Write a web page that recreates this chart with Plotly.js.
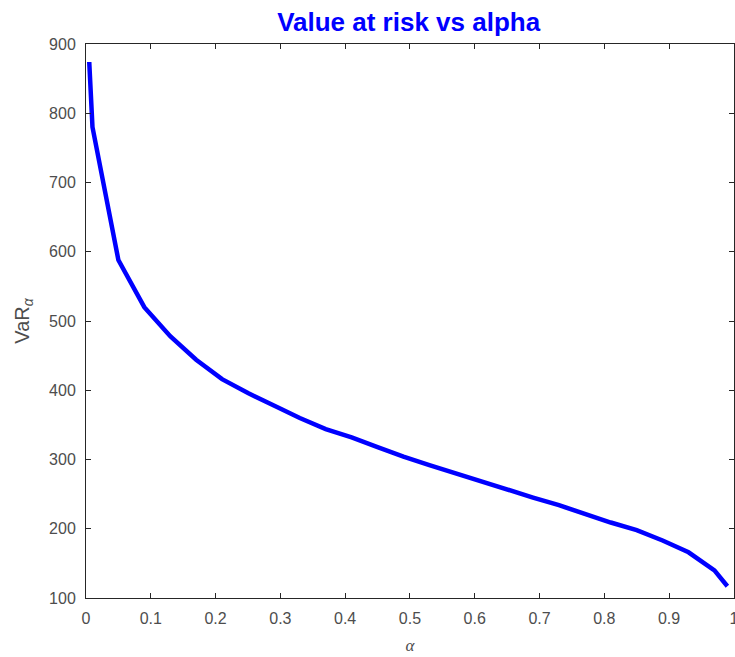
<!DOCTYPE html>
<html>
<head>
<meta charset="utf-8">
<script src="https://cdn.plot.ly/plotly-3.0.1.min.js"></script>
<style>html,body{margin:0;padding:0;background:#fff;}#chart{width:735px;height:657px;}</style>
</head>
<body>
<div id="chart"></div>
<script>
const alphaValues = [0.005, 0.01, 0.05, 0.09, 0.13, 0.17, 0.21, 0.25, 0.29, 0.33, 0.37, 0.41, 0.45, 0.49, 0.53, 0.57, 0.61, 0.65, 0.69, 0.73, 0.77, 0.81, 0.85, 0.89, 0.93, 0.97, 0.99];
const varValues = [874, 780, 588, 520, 478, 444, 416, 396, 378, 360, 344, 332, 318, 304, 292, 280, 268, 256, 245, 234, 221, 209, 198, 183, 166, 140, 117];
const xTicks = [0, 0.1, 0.2, 0.3, 0.4, 0.5, 0.6, 0.7, 0.8, 0.9, 1];
const xTickLabels = ['0', '0.1', '0.2', '0.3', '0.4', '0.5', '0.6', '0.7', '0.8', '0.9', '1'];
const yTicks = [100, 200, 300, 400, 500, 600, 700, 800, 900];

const axisCommon = {
  showgrid: false, zeroline: false, showline: true, mirror: 'ticks',
  linecolor: '#262626', linewidth: 1, ticks: 'inside', ticklen: 5, tickcolor: '#262626',
  ticklabeloverflow: 'allow',
  tickfont: {family: 'Liberation Sans, Arial, sans-serif', size: 16, color: '#4d4d4d'}
};

Plotly.newPlot('chart', [{
  x: alphaValues, y: varValues, type: 'scatter', mode: 'lines',
  line: {color: '#0000ff', width: 4.5}
}], {
  width: 735, height: 657,
  margin: {l: 86, r: 1, t: 44, b: 59},
  paper_bgcolor: '#fff', plot_bgcolor: '#fff',
  showlegend: false,
  title: {text: '<b>Value at risk vs alpha</b>', x: 0.556, xanchor: 'center', y: 0.966, yanchor: 'middle',
    font: {family: 'Liberation Sans, Arial, sans-serif', size: 26, color: '#0000ff'}},
  xaxis: Object.assign({}, axisCommon, {range: [0, 1.0002], tickvals: xTicks, ticktext: xTickLabels,
    ticklabelstandoff: 6,
    title: {text: '<i>α</i>', standoff: 12, font: {family: 'Liberation Serif, Times New Roman, serif', size: 17, color: '#4d4d4d'}}}),
  yaxis: Object.assign({}, axisCommon, {range: [100, 900], tickvals: yTicks,
    ticklabelstandoff: 6,
    title: {text: 'VaR<sub><i>α</i></sub>', standoff: 14, font: {family: 'Liberation Sans, Arial, sans-serif', size: 20, color: '#4d4d4d'}}})
}, {displayModeBar: false, staticPlot: true});
</script>
</body>
</html>
